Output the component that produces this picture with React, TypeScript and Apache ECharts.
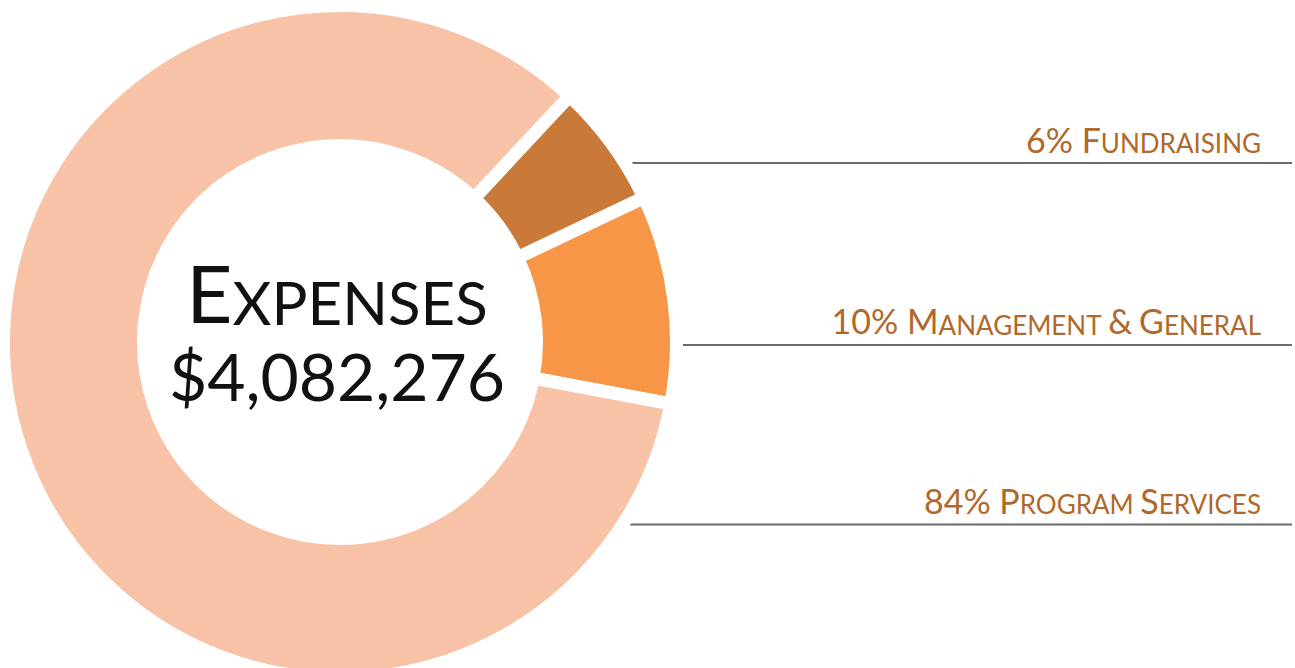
import React, { useEffect, useRef } from 'react';
import * as echarts from 'echarts';

// ---- data ----
const categories = ['Fundraising', 'Management & General', 'Program Services'];
const shares = [6, 10, 84];
const centerTitle = 'Expenses';
const totalExpenses = '$4,082,276';
const sliceColors = ['#C97A38', '#F79646', '#F7C2A6'];

// ---- layout / style ----
const W = 1295;
const H = 668;
const CX = 340;
const CY = 342;
const R_IN = 203;
const R_OUT = 330;
const GAP = 13;
const START_ANGLE = 47;
const LEADER_ANGLES = [31.4, -1.9, -31.5];
const LEADER_BEND = [
  [8, -7],
  [10, -8],
  [8, 10],
];
const LABEL_RIGHT = 1261;
const LABEL_COLOR = '#B0682B';
const FONT = 'Lato, "Open Sans", sans-serif';

function smallCaps(s: string, big: string, small: string): string {
  return s
    .split(' ')
    .map((w) => {
      const first = w[0];
      const rest = w.slice(1).toUpperCase();
      return `{${big}|${first}}` + (rest ? `{${small}|${rest}}` : '');
    })
    .join(`{${small}| }`);
}

export default function App() {
  const ref = useRef<HTMLDivElement>(null);

  useEffect(() => {
    if (!ref.current) return;
    const chart = echarts.init(ref.current, null, { renderer: 'svg' });
    const data = categories.map((name, i) => ({
      name,
      value: shares[i],
      itemStyle: { color: sliceColors[i] },
    }));

    chart.setOption({
      animation: false,
      backgroundColor: '#fff',
      graphic: [
        {
          type: 'text',
          x: CX - 3,
          y: CY - 12,
          style: {
            text: smallCaps(centerTitle, 'E', 'e') + '\n' + `{n|${totalExpenses}}`,
            align: 'center',
            verticalAlign: 'middle',
            fill: '#111',
            fontFamily: FONT,
            rich: {
              E: { fontSize: 80, fontFamily: FONT, fill: '#111', lineHeight: 80, verticalAlign: 'bottom' },
              e: { fontSize: 60, fontFamily: FONT, fill: '#111', lineHeight: 80, verticalAlign: 'bottom' },
              n: { fontSize: 66, fontFamily: FONT, fill: '#111', lineHeight: 76, verticalAlign: 'bottom' },
            },
          },
        },
      ],
      series: [
        {
          type: 'pie',
          center: [CX, CY],
          radius: [R_IN - GAP / 2, R_OUT + GAP / 2],
          startAngle: START_ANGLE,
          clockwise: true,
          avoidLabelOverlap: false,
          silent: true,
          itemStyle: { borderColor: '#fff', borderWidth: GAP, borderJoin: 'miter' },
          emphasis: { disabled: true },
          label: {
            show: true,
            position: 'outside',
            color: LABEL_COLOR,
            fontFamily: FONT,
            formatter: (p: any) => `{B|${p.value}% }` + smallCaps(p.name, 'B', 's'),
            rich: {
              B: { fontSize: 34, fontFamily: FONT, color: LABEL_COLOR, lineHeight: 36, verticalAlign: 'bottom' },
              s: { fontSize: 26, fontFamily: FONT, color: LABEL_COLOR, lineHeight: 36, verticalAlign: 'bottom' },
            },
          },
          labelLine: {
            show: true,
            length: 10,
            length2: 10,
            lineStyle: { color: '#6b6b6b', width: 2 },
          },
          labelLayout: (params: any) => {
            const i = params.dataIndex;
            const a = (LEADER_ANGLES[i] * Math.PI) / 180;
            const p0 = [CX + R_OUT * Math.cos(a), CY - R_OUT * Math.sin(a)];
            const p1 = [p0[0] + LEADER_BEND[i][0], p0[1] + LEADER_BEND[i][1]];
            const p2 = [W - 3, p1[1]];
            return {
              x: LABEL_RIGHT,
              y: p1[1] - 7,
              align: 'right',
              verticalAlign: 'bottom',
              labelLinePoints: [p0, p1, p2],
            };
          },
          data,
        },
      ],
    });

    return () => chart.dispose();
  }, []);

  return (
    <div
      ref={ref}
      style={{ position: 'fixed', left: 0, top: 0, width: W, height: H, background: '#fff' }}
    />
  );
}
